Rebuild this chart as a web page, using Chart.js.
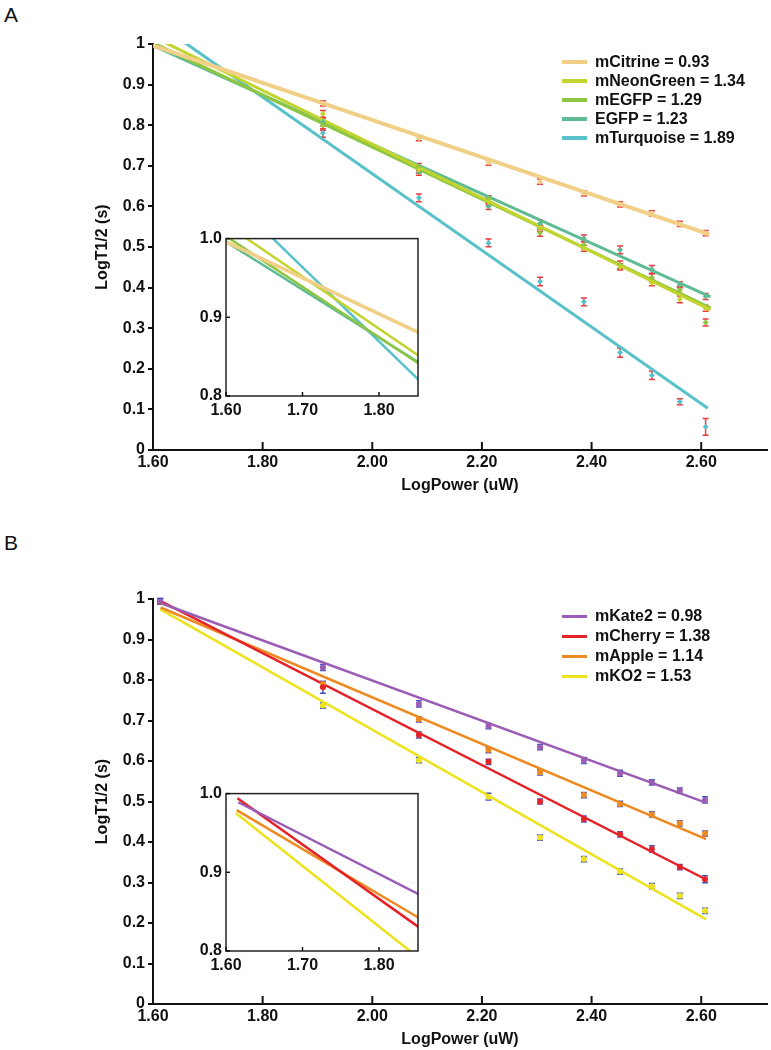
<!DOCTYPE html>
<html>
<head>
<meta charset="utf-8">
<script src="https://cdn.jsdelivr.net/npm/chart.js@4.4.0/dist/chart.umd.min.js"></script>
<style>
  html, body { margin: 0; padding: 0; background: #fff; }
  body { width: 771px; height: 1050px; position: relative; overflow: hidden; font-family: 'Liberation Sans', Arial, sans-serif; }
  .box { position: absolute; }
  .letter { position: absolute; left: 4px; font-size: 21px; line-height: 1; color: #111; }
  .legend { position: absolute; left: 562px; font-weight: bold; font-size: 16px; color: #111; }
  .legend .row { display: flex; align-items: center; white-space: nowrap; }
  .legend .swatch { width: 25px; margin-right: 8px; }
</style>
</head>
<body>
<div class="letter" style="top:4px">A</div>
<div class="letter" style="top:532px">B</div>
<div class="box" style="left:0;top:0;width:771px;height:496px"><canvas id="chartA"></canvas></div>
<div class="box" style="left:180px;top:225px;width:245px;height:200px"><canvas id="insetA"></canvas></div>
<div class="box" style="left:0;top:555px;width:771px;height:495px"><canvas id="chartB"></canvas></div>
<div class="box" style="left:180px;top:780px;width:245px;height:200px"><canvas id="insetB"></canvas></div>
<div class="legend" id="legendA" style="top:52px"></div>
<div class="legend" id="legendB" style="top:606px"></div>

<script>
const X_TITLE = "LogPower (uW)";
const Y_TITLE = "LogT1/2 (s)";

// panel A: green / yellow / cyan proteins
const POWER_A = [1.91, 2.085, 2.212, 2.306, 2.386, 2.452, 2.51, 2.561, 2.608];
const NAMES_A = ["mCitrine", "mNeonGreen", "mEGFP", "EGFP", "mTurquoise"];
const SLOPES_A = ["0.93", "1.34", "1.29", "1.23", "1.89"];

const CITRINE_T = [0.854, 0.768, 0.708, 0.661, 0.632, 0.605, 0.583, 0.557, 0.534];
const NEONGREEN_T = [0.828, 0.69, 0.612, 0.546, 0.497, 0.451, 0.412, 0.371, 0.349];
const MEGFP_T = [0.8, 0.697, 0.618, 0.535, 0.505, 0.456, 0.425, 0.394, 0.314];
const EGFP_T = [0.808, 0.685, 0.6, 0.558, 0.521, 0.493, 0.445, 0.407, 0.378];
const TURQUOISE_T = [0.781, 0.621, 0.51, 0.415, 0.365, 0.24, 0.184, 0.119, 0.057];

const CITRINE_ERR = [0.004, 0.004, 0.004, 0.004, 0.004, 0.004, 0.004, 0.004, 0.004];
const NEONGREEN_ERR = [0.006, 0.005, 0.006, 0.005, 0.005, 0.005, 0.005, 0.006, 0.005];
const MEGFP_ERR = [0.01, 0.006, 0.006, 0.006, 0.007, 0.007, 0.006, 0.006, 0.006];
const EGFP_ERR = [0.007, 0.006, 0.005, 0.006, 0.006, 0.007, 0.007, 0.005, 0.005];
const TURQUOISE_ERR = [0.008, 0.007, 0.007, 0.008, 0.007, 0.009, 0.008, 0.005, 0.018];

// fitted lines, [start, end] as [LogPower, LogT1/2]
const CITRINE_FIT = [[1.6, 0.996], [2.615, 0.531]];
const NEONGREEN_FIT = [[1.6, 1.018], [2.617, 0.345]];
const MEGFP_FIT = [[1.6, 1.003], [2.617, 0.35]];
const EGFP_FIT = [[1.6, 0.996], [2.617, 0.377]];
const TURQUOISE_FIT = [[1.6, 1.058], [2.612, 0.103]];

// panel B: red / orange proteins
const POWER_B = [1.613, 1.91, 2.085, 2.212, 2.306, 2.386, 2.452, 2.51, 2.561, 2.607];
const NAMES_B = ["mKate2", "mCherry", "mApple", "mKO2"];
const SLOPES_B = ["0.98", "1.38", "1.14", "1.53"];

const KATE2_T = [0.995, 0.831, 0.741, 0.686, 0.634, 0.601, 0.57, 0.547, 0.527, 0.504];
const CHERRY_T = [0.994, 0.782, 0.664, 0.598, 0.5, 0.457, 0.419, 0.383, 0.338, 0.308];
const APPLE_T = [0.995, 0.79, 0.703, 0.627, 0.572, 0.516, 0.494, 0.468, 0.446, 0.421];
const KO2_T = [0.994, 0.737, 0.602, 0.512, 0.411, 0.358, 0.327, 0.291, 0.267, 0.23];

const KATE2_ERR = [0.004, 0.005, 0.005, 0.004, 0.004, 0.005, 0.005, 0.004, 0.004, 0.005];
const CHERRY_ERR = [0.004, 0.012, 0.005, 0.004, 0.004, 0.005, 0.004, 0.005, 0.004, 0.006];
const APPLE_ERR = [0.004, 0.004, 0.004, 0.004, 0.004, 0.004, 0.004, 0.004, 0.004, 0.004];
const KO2_ERR = [0.004, 0.004, 0.004, 0.006, 0.004, 0.004, 0.004, 0.004, 0.004, 0.004];

const KATE2_FIT = [[1.616, 0.989], [2.607, 0.498]];
const CHERRY_FIT = [[1.615, 0.994], [2.608, 0.308]];
const APPLE_FIT = [[1.614, 0.979], [2.609, 0.407]];
const KO2_FIT = [[1.613, 0.975], [2.609, 0.209]];

const COLORS_A = ["#f1cf86", "#c4d42e", "#8ec641", "#5fbb94", "#58c1ca"];
const COLORS_B = ["#9a5cb4", "#e42328", "#ee8a1f", "#ece21d"];

Chart.defaults.font.family = "'Liberation Sans', Arial, sans-serif";
Chart.defaults.font.weight = "bold";
Chart.defaults.font.size = 16;
Chart.defaults.color = "#111";

// error bars, drawn under the point markers
const errorBars = {
  id: "errorBars",
  beforeDatasetsDraw(chart) {
    const { ctx, scales: { x, y } } = chart;
    ctx.save();
    chart.data.datasets.forEach(ds => {
      if (!ds.errors) return;
      ctx.strokeStyle = ds.errColor;
      ctx.lineWidth = 1.5;
      ds.data.forEach((p, j) => {
        const px = x.getPixelForValue(p.x);
        const top = y.getPixelForValue(p.y + ds.errors[j]) - 1;
        const bot = y.getPixelForValue(p.y - ds.errors[j]) + 1;
        ctx.beginPath();
        ctx.moveTo(px, top); ctx.lineTo(px, bot);
        ctx.moveTo(px - 3, top); ctx.lineTo(px + 3, top);
        ctx.moveTo(px - 3, bot); ctx.lineTo(px + 3, bot);
        ctx.stroke();
      });
    });
    ctx.restore();
  }
};

// tick marks pointing into the plot
const inTicks = {
  id: "inTicks",
  afterDraw(chart, args, opts) {
    const { ctx, chartArea: a } = chart;
    ctx.save();
    ctx.strokeStyle = "#111";
    ctx.lineWidth = opts.width;
    opts.axes.forEach(id => {
      const s = chart.scales[id];
      s.ticks.forEach(t => {
        const p = s.getPixelForValue(t.value);
        ctx.beginPath();
        if (s.isHorizontal()) { ctx.moveTo(p, a.bottom); ctx.lineTo(p, a.bottom - opts.len); }
        else { ctx.moveTo(a.left, p); ctx.lineTo(a.left + opts.len, p); }
        ctx.stroke();
      });
    });
    ctx.restore();
  }
};

// white, boxed inset
const frame = {
  id: "frame",
  beforeDraw(chart) {
    const { ctx, chartArea: a } = chart;
    ctx.save();
    ctx.fillStyle = "#fff";
    ctx.fillRect(a.left, a.top, a.width, a.height);
    ctx.restore();
  },
  afterDraw(chart) {
    const { ctx, chartArea: a } = chart;
    ctx.save();
    ctx.strokeStyle = "#222";
    ctx.lineWidth = 1.5;
    ctx.strokeRect(a.left, a.top, a.width, a.height);
    ctx.restore();
  }
};

function pts(xs, ys) {
  return xs.map((x, i) => ({ x, y: ys[i] }));
}

function fitData(fit) {
  return fit.map(p => ({ x: p[0], y: p[1] }));
}

function lineSets(colors, fits, width) {
  return fits.map((f, i) => ({
    data: fitData(f),
    showLine: true,
    borderColor: colors[i],
    borderWidth: i === 0 && colors === COLORS_A ? width + 1 : width,
    pointRadius: 0,
    fill: false
  }));
}

function pointSets(colors, xs, values, errors, errColor, style) {
  return values.map((v, i) => ({
    data: pts(xs, v),
    showLine: false,
    pointStyle: style,
    pointRadius: 3,
    pointBackgroundColor: colors[i],
    pointBorderWidth: 0,
    errors: errors[i],
    errColor: errColor
  }));
}

function yLabel(v) {
  const r = Math.round(v * 10) / 10;
  if (r === 0) return "0";
  if (r === 1) return "1";
  return r.toFixed(1);
}

function mainOptions() {
  return {
    responsive: true,
    maintainAspectRatio: false,
    animation: false,
    layout: { padding: { top: 44, right: 3, left: 0, bottom: 0 } },
    plugins: {
      legend: { display: false },
      tooltip: { enabled: false },
      inTicks: { axes: ["x"], len: 8, width: 2 }
    },
    scales: {
      x: {
        type: "linear", min: 1.6, max: 2.72,
        ticks: { stepSize: 0.2, includeBounds: false, padding: 3, autoSkip: false, maxRotation: 0, callback: v => v.toFixed(2) },
        grid: { display: false, drawTicks: false },
        border: { color: "#111", width: 2 },
        title: { display: true, text: X_TITLE, font: { size: 16, weight: "bold" }, padding: { top: 0, bottom: 1 } },
        afterFit: s => { s.height = 46; }
      },
      y: {
        type: "linear", min: 0, max: 1,
        ticks: { stepSize: 0.1, padding: 3, callback: yLabel },
        grid: { drawOnChartArea: false, color: "#111", lineWidth: 2, tickLength: 5 },
        border: { color: "#111", width: 2 },
        title: { display: true, text: Y_TITLE, font: { size: 16, weight: "bold" }, padding: { top: 93, bottom: 0 } },
        afterFit: s => { s.width = 153; }
      }
    }
  };
}

function insetOptions() {
  return {
    responsive: true,
    maintainAspectRatio: false,
    animation: false,
    layout: { padding: { top: 12, right: 7, left: 0, bottom: 0 } },
    plugins: {
      legend: { display: false },
      tooltip: { enabled: false },
      inTicks: { axes: ["x", "y"], len: 4, width: 1.5 }
    },
    scales: {
      x: {
        type: "linear", min: 1.6, max: 1.851,
        ticks: { stepSize: 0.1, includeBounds: false, padding: 5, autoSkip: false, maxRotation: 0, callback: v => v.toFixed(2) },
        grid: { display: false, drawTicks: false },
        border: { display: false },
        afterFit: s => { s.height = 29; }
      },
      y: {
        type: "linear", min: 0.8, max: 1.0,
        ticks: { stepSize: 0.1, padding: 4, callback: v => v.toFixed(1) },
        grid: { display: false, drawTicks: false },
        border: { display: false },
        afterFit: s => { s.width = 46; }
      }
    }
  };
}

function buildLegend(id, names, slopes, colors, thick) {
  const el = document.getElementById(id);
  const h = thick > 3 ? 19 : 20;
  names.forEach((n, i) => {
    const row = document.createElement("div");
    row.className = "row";
    row.style.height = h + "px";
    const sw = document.createElement("span");
    sw.className = "swatch";
    sw.style.height = thick + "px";
    sw.style.background = colors[i];
    const tx = document.createElement("span");
    tx.textContent = n + " = " + slopes[i];
    row.appendChild(sw);
    row.appendChild(tx);
    el.appendChild(row);
  });
}

const VALUES_A = [CITRINE_T, NEONGREEN_T, MEGFP_T, EGFP_T, TURQUOISE_T];
const ERRORS_A = [CITRINE_ERR, NEONGREEN_ERR, MEGFP_ERR, EGFP_ERR, TURQUOISE_ERR];
const FITS_A = [CITRINE_FIT, NEONGREEN_FIT, MEGFP_FIT, EGFP_FIT, TURQUOISE_FIT];
const VALUES_B = [KATE2_T, CHERRY_T, APPLE_T, KO2_T];
const ERRORS_B = [KATE2_ERR, CHERRY_ERR, APPLE_ERR, KO2_ERR];
const FITS_B = [KATE2_FIT, CHERRY_FIT, APPLE_FIT, KO2_FIT];

new Chart(document.getElementById("chartA"), {
  type: "scatter",
  data: { datasets: [
    ...pointSets(COLORS_A, POWER_A, VALUES_A, ERRORS_A, "#ef3a3f", "rectRot"),
    ...lineSets(COLORS_A, FITS_A, 3)
  ] },
  options: mainOptions(),
  plugins: [errorBars, inTicks]
});

new Chart(document.getElementById("insetA"), {
  type: "scatter",
  data: { datasets: lineSets(COLORS_A, FITS_A, 2.5) },
  options: insetOptions(),
  plugins: [frame, inTicks]
});

new Chart(document.getElementById("chartB"), {
  type: "scatter",
  data: { datasets: [
    ...pointSets(COLORS_B, POWER_B, VALUES_B, ERRORS_B, "#4654c0", "circle"),
    ...lineSets(COLORS_B, FITS_B, 2.5)
  ] },
  options: mainOptions(),
  plugins: [errorBars, inTicks]
});

new Chart(document.getElementById("insetB"), {
  type: "scatter",
  data: { datasets: lineSets(COLORS_B, FITS_B, 2.5) },
  options: insetOptions(),
  plugins: [frame, inTicks]
});

buildLegend("legendA", NAMES_A, SLOPES_A, COLORS_A, 4);
buildLegend("legendB", NAMES_B, SLOPES_B, COLORS_B, 3);
</script>
</body>
</html>
